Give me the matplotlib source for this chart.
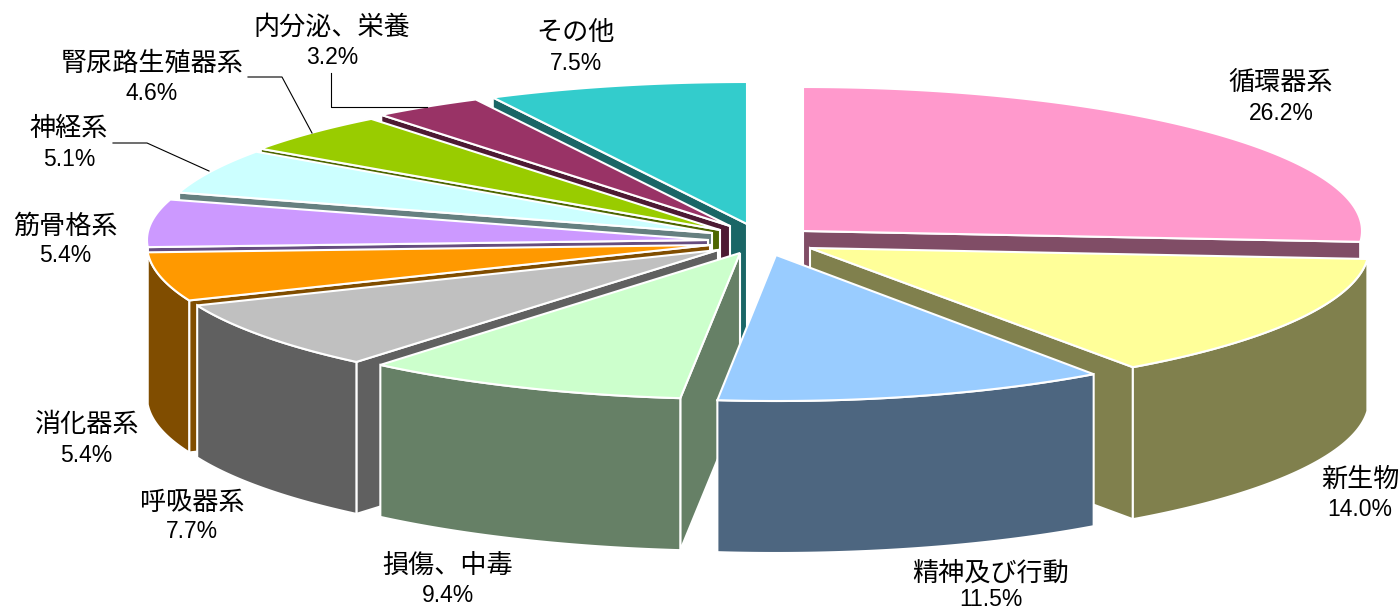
import numpy as np
import matplotlib
matplotlib.use('Agg')
import matplotlib.pyplot as plt
from matplotlib.patches import Polygon

# shares in percent, clockwise from 12 o'clock
names = ['循環器系', '新生物', '精神及び行動', '損傷、中毒', '呼吸器系', '消化器系',
         '筋骨格系', '神経系', '腎尿路生殖器系', '内分泌、栄養', 'その他']
shares = [26.2, 14.0, 11.5, 9.4, 7.7, 5.4, 5.4, 5.1, 4.6, 3.2, 7.5]

top_colors = ['#FF99CC', '#FFFF99', '#99CCFF', '#CCFFCC', '#C0C0C0', '#FF9900',
              '#CC99FF', '#CCFFFF', '#99CC00', '#993366', '#33CCCC']
side_colors = ['#804D66', '#80804D', '#4D6680', '#668066', '#606060', '#804D00',
               '#664D80', '#668080', '#4D6600', '#4D1A33', '#1A6666']

# where each exploded slice has its tip, in pixels
tip_x = [803, 810, 776, 740, 718, 710, 708, 712, 720, 730, 747]
tip_y = [231, 248, 255, 253, 250, 245, 240, 233, 230, 226, 224]
# the perspective makes the radius differ a little from slice to slice
slice_rx = [559, 559, 550, 560, 563, 563, 561, 556, 560, 560, 560]
slice_ry = [144, 146, 146, 146, 146, 146, 142, 142, 142, 142, 142]

# label centres in pixels
label_x = [1281, 1360, 991, 448, 192, 86, 65, 69, 152, 332, 576]
name_y = [83, 479, 573, 565, 502, 425, 226, 128, 63, 27, 33]
pct_y = [113, 509, 600, 595, 532, 455, 256, 159, 93, 57, 63]

# leader lines
leaders = [([113, 147, 209], [143, 143, 171]),
           ([248, 282, 312], [77, 77, 133]),
           ([331, 331, 427], [73, 107, 107])]

DEPTH = 152
WHITE_LW = 1.5

plt.rcParams['font.family'] = ['Noto Sans CJK JP', 'DejaVu Sans']

fig = plt.figure(figsize=(14, 6.1), dpi=100)
ax = fig.add_axes([0, 0, 1, 1])
ax.set_xlim(0, 1400)
ax.set_ylim(610, 0)
ax.axis('off')


def rim_point(i, deg):
    t = np.radians(deg)
    return tip_x[i] + slice_rx[i] * np.sin(t), tip_y[i] - slice_ry[i] * np.cos(t)


def arc(i, a, b):
    n = max(int(abs(b - a) * 2), 2)
    return [rim_point(i, d) for d in np.linspace(a, b, n)]


def shape(points, color, z):
    ax.add_patch(Polygon(points, closed=True, facecolor=color, edgecolor='white',
                         linewidth=WHITE_LW, joinstyle='miter', zorder=z))


def down(points):
    return [(x, y + DEPTH) for x, y in points]


edges = np.concatenate([[0], np.cumsum(shares)]) / np.sum(shares) * 360

# back slices first, then the ones nearer to the viewer
draw_order = [10, 9, 8, 7, 6, 5, 4, 0, 1, 3, 2]

for z, i in enumerate(draw_order):
    a, b = edges[i], edges[i + 1]
    tip = (tip_x[i], tip_y[i])
    col = side_colors[i]
    # cut faces that look towards the viewer
    if a > 180:
        end = rim_point(i, a)
        shape([tip, end] + down([end, tip]), col, z * 10 + 1)
    if b < 180:
        end = rim_point(i, b)
        shape([tip, end] + down([end, tip]), col, z * 10 + 1)
    # outer rim, only the front half of the ellipse shows
    lo, hi = max(a, 90), min(b, 270)
    if lo < hi:
        r = arc(i, lo, hi)
        shape(r + down(r)[::-1], col, z * 10 + 2)
    shape([tip] + arc(i, a, b), top_colors[i], z * 10 + 3)

for xs, ys in leaders:
    ax.plot(xs, ys, color='black', lw=0.8, zorder=200)

for i, name in enumerate(names):
    ax.text(label_x[i], name_y[i], name, ha='center', va='center', fontsize=18.8,
            color='black', zorder=210)
    ax.text(label_x[i], pct_y[i], f'{shares[i]:.1f}%', ha='center', va='center', fontsize=16.5,
            family=['Liberation Sans', 'Noto Sans CJK JP'], color='black', zorder=210)

fig.savefig('out.png', dpi=100, facecolor='white')
